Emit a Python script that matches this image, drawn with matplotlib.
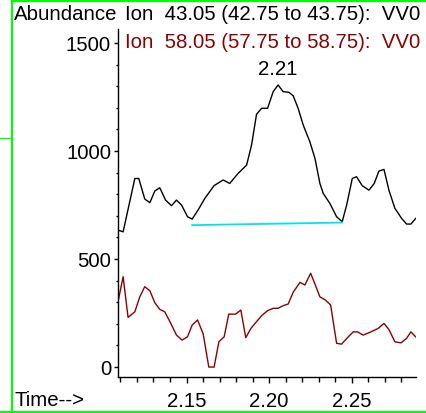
import matplotlib
matplotlib.use("Agg")
import matplotlib.pyplot as plt
from matplotlib.lines import Line2D
from matplotlib.ticker import MultipleLocator

plt.rcParams['font.family'] = ['Liberation Sans', 'DejaVu Sans']
FS = 14.7

# Extracted ion chromatograms (time in min, abundance)
time_43 = [2.1085, 2.1116, 2.1187, 2.1211, 2.1247, 2.1278, 2.1308, 2.1338, 2.1373,
           2.1409, 2.1439, 2.1470, 2.1506, 2.1534, 2.1570, 2.1611, 2.1667, 2.1722,
           2.1762, 2.1813, 2.1864, 2.1894, 2.1924, 2.1955, 2.1991, 2.2025, 2.2055,
           2.2085, 2.2120, 2.2146, 2.2176, 2.2207, 2.2247, 2.2278, 2.2308, 2.2328,
           2.2368, 2.2409, 2.2443, 2.2470, 2.2504, 2.2530, 2.2564, 2.2605, 2.2637,
           2.2665, 2.2696, 2.2726, 2.2762, 2.2803, 2.2833, 2.2859, 2.2888]
abund_43 = [634, 626, 873, 873, 778, 761, 815, 830, 773,
            747, 773, 750, 696, 685, 727, 781, 840, 866,
            850, 897, 935, 1028, 1170, 1198, 1198, 1275, 1306,
            1275, 1272, 1256, 1198, 1120, 1043, 966, 850, 804,
            758, 696, 673, 750, 873, 881, 840, 819, 850,
            907, 915, 819, 735, 688, 662, 662, 688]

time_58 = [2.1085, 2.1116, 2.1146, 2.1187, 2.1217, 2.1247, 2.1278, 2.1308, 2.1338,
           2.1368, 2.1405, 2.1439, 2.1473, 2.1506, 2.1534, 2.1567, 2.1601, 2.1635,
           2.1667, 2.1696, 2.1728, 2.1756, 2.1797, 2.1829, 2.1859, 2.1890, 2.1924,
           2.1955, 2.1991, 2.2025, 2.2055, 2.2085, 2.2116, 2.2146, 2.2187, 2.2217,
           2.2252, 2.2278, 2.2308, 2.2342, 2.2373, 2.2409, 2.2439, 2.2476, 2.2510,
           2.2536, 2.2570, 2.2611, 2.2661, 2.2696, 2.2726, 2.2762, 2.2799, 2.2833,
           2.2859, 2.2888]
abund_58 = [302, 418, 230, 256, 325, 372, 353, 298, 267,
            256, 202, 148, 125, 140, 194, 218, 153, 0,
            0, 117, 140, 245, 245, 264, 136, 179, 210,
            238, 261, 272, 272, 284, 292, 346, 392, 380,
            434, 384, 325, 310, 287, 110, 106, 137, 163,
            163, 148, 161, 179, 202, 174, 117, 112, 133,
            163, 140]

# integration baseline under the m/z 43 peak
base_time = [2.1534, 2.2443]
base_abund = [657, 669]

W, H = 426, 413
fig = plt.figure(figsize=(W / 100, H / 100), dpi=100)
ax = fig.add_axes([118 / W, (H - 377) / H, (416 - 118) / W, (377 - 29) / H])

ax.plot(time_43, abund_43, color='black', lw=1.0)
ax.plot(time_58, abund_58, color='#8b0000', lw=1.0)
ax.plot(base_time, base_abund, color='#00e5e5', lw=1.3)

ipk = abund_43.index(max(abund_43))
ax.annotate(f"{time_43[ipk]:.2f}", (time_43[ipk], abund_43[ipk]),
            xytext=(0, 4), textcoords='offset points',
            ha='center', va='bottom', fontsize=FS)

ax.set_xlim(2.1085, 2.289)
ax.set_ylim(-46, 1565)
ax.spines['top'].set_visible(False)
ax.spines['right'].set_visible(False)
ax.spines['left'].set_linewidth(1.0)
ax.spines['bottom'].set_linewidth(1.0)

ax.set_xticks([2.15, 2.20, 2.25])
ax.set_xticklabels(['2.15', '2.20', '2.25'])
ax.xaxis.set_minor_locator(MultipleLocator(0.01))
ax.set_yticks([0, 500, 1000, 1500])
ax.yaxis.set_minor_locator(MultipleLocator(100))
ax.tick_params(axis='x', which='major', length=4.5, width=1.0, pad=6.5, labelsize=FS)
ax.tick_params(axis='x', which='minor', length=3.5, width=1.0)
ax.tick_params(axis='y', which='major', length=3, width=1.0, pad=2, labelsize=FS)
ax.tick_params(axis='y', which='minor', length=1.5, width=1.0)

fig.text(14 / W, 1 - 15 / H, "Abundance", fontsize=FS, va='center', ha='left')
fig.text(14 / W, 1 - 400 / H, "Time-->", fontsize=FS, va='center', ha='left')
fig.text(125 / W, 1 - 15 / H, "Ion  43.05 (42.75 to 43.75):  VV0",
         fontsize=FS, va='center', ha='left', color='black')
fig.text(125 / W, 1 - 43 / H, "Ion  58.05 (57.75 to 58.75):  VV0",
         fontsize=FS, va='center', ha='left', color='#8b0000')

# window frame
green = '#00ff00'
fig.add_artist(Line2D([11.8 / W, 11.8 / W], [0, 1], color=green, lw=1.5))
fig.add_artist(Line2D([11.8 / W, 1], [1 - 0.8 / H, 1 - 0.8 / H], color=green, lw=1.5))
fig.add_artist(Line2D([0, 1], [1.2 / H, 1.2 / H], color=green, lw=1.5))
fig.add_artist(Line2D([0, 11 / W], [1 - 137.5 / H, 1 - 137.5 / H], color=green, lw=1.0))

fig.savefig("out.png", dpi=100)
